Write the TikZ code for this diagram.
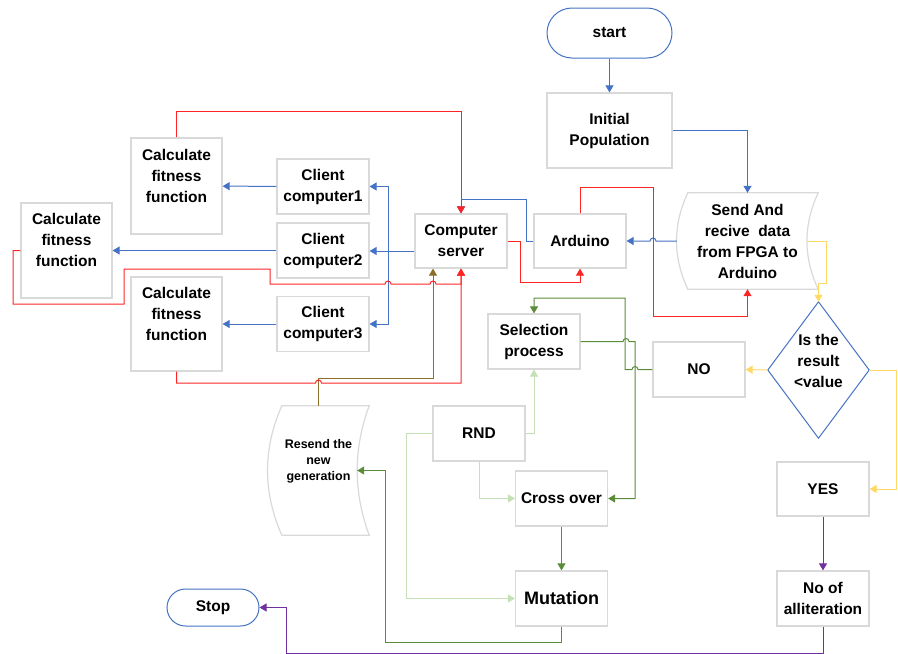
\documentclass[tikz,border=0pt]{standalone}
\usepackage{fontspec}
\setmainfont{Liberation Sans}
\usetikzlibrary{arrows.meta}
\definecolor{boxgray}{HTML}{D9D9D9}
\definecolor{lnblue}{HTML}{4472C4}
\definecolor{lnred}{HTML}{FF2424}
\definecolor{lnbrown}{HTML}{8B6E2A}
\definecolor{lngreen}{HTML}{5B8C3A}
\definecolor{lnlight}{HTML}{C5E0B4}
\definecolor{lnyellow}{HTML}{FFD966}
\definecolor{lnpurple}{HTML}{7030A0}
\tikzset{
  box/.style={draw=boxgray,line width=1.2pt,fill=white,minimum width=92pt,minimum height=55pt,align=center,inner sep=2pt},
  plain/.style={minimum width=92pt,minimum height=55pt,align=center,inner sep=0pt},
  term/.style={draw=lnblue,line width=1pt,fill=white,minimum width=125pt,minimum height=50pt,rounded corners=25pt},
  flow/.style={line width=1pt,-{Triangle[length=7pt,width=8pt]}},
  hop/.style={start angle=180,end angle=0,radius=3pt},
  hopl/.style={start angle=0,end angle=180,radius=3pt},
}
\begin{document}
\begin{tikzpicture}[x=1pt,y=-1pt,font=\fontsize{15.5}{21}\selectfont\bfseries]
\useasboundingbox (0,0) rectangle (898,654);
\node[term] (start) at (609.5,33) {start};
\node[box,minimum width=125pt,minimum height=75pt] (init) at (609.5,130.5) {Initial\\Population};
\node[plain,minimum width=141pt,minimum height=96pt] (send) at (747.5,241) {Send And\\recive\ \ data\\from FPGA to\\Arduino};
\node[box,minimum height=54pt] (ard) at (580,241) {Arduino};
\node[box,minimum height=54pt] (srv) at (461,241) {Computer\\server};
\node[box] (cl1) at (323,186.5) {Client\\computer1};
\node[box] (cl2) at (323,250.5) {Client\\computer2};
\node[box] (cl3) at (323,324) {Client\\computer3};
\node[box,minimum width=91pt,minimum height=96pt] (fit1) at (176.5,186) {Calculate\\fitness\\function\\\mbox{}};
\node[box,minimum width=91pt,minimum height=95pt] (fit2) at (66.5,250.5) {Calculate\\fitness\\function\\\mbox{}};
\node[box,minimum width=91pt,minimum height=94pt] (fit3) at (176.5,324) {Calculate\\fitness\\function\\\mbox{}};
\node[plain,minimum width=101pt,minimum height=129pt,font=\fontsize{12.5}{16}\selectfont\bfseries] (resend) at (318.5,470.5) {Resend the\\new\\generation\\[5pt]\mbox{}};
\node[box] (sel) at (534,341.5) {Selection\\process};
\node[box] (rnd) at (479,433.5) {RND};
\node[box] (cross) at (561.5,498.5) {Cross over};
\node[box,font=\fontsize{18}{22}\selectfont\bfseries] (mut) at (561.5,598.5) {Mutation};
\node[box] (no) at (699,369.5) {NO};
\node[plain,minimum width=101pt,minimum height=136pt] (dec) at (818.5,370) {Is the\\result\\\textless value\\[-3pt]\mbox{}};
\node[box,minimum height=54pt] (yes) at (823,489) {YES};
\node[box] (alit) at (823,598.5) {No of\\alliteration};
\node[term,minimum width=92pt,minimum height=37pt,rounded corners=18.5pt] (stop) at (213,607.5) {Stop};
\draw[draw=boxgray,line width=1.2pt] ([xshift=11pt]send.north west) -- (send.north east) .. controls +(-15,32) and +(-15,-32) .. (send.south east) -- ([xshift=11pt]send.south west) .. controls +(-15,-32) and +(-15,32) .. ([xshift=11pt]send.north west) -- cycle;
\draw[draw=boxgray,line width=1.2pt] ([xshift=14pt]resend.north west) -- (resend.north east) .. controls +(-16,43) and +(-16,-43) .. (resend.south east) -- ([xshift=14pt]resend.south west) .. controls +(-19,-43) and +(-19,43) .. ([xshift=14pt]resend.north west) -- cycle;
\draw[draw=lnblue,line width=1pt] (dec.north) -- (dec.east) -- (dec.south) -- (dec.west) -- cycle;
\coordinate (bus) at (388,251);
\draw[flow,lnblue] (start) -- (init);
\draw[flow,lnblue] (init.east) -| (send.north);
\draw[flow,lnblue] (send.west) -- (656,241) arc[hopl] -- (ard.east);
\draw[flow,lnblue] (ard.west) -- (526,241) |- ([yshift=14pt]srv.north) -- (srv.north);
\draw[line width=1pt,lnblue] (srv.west |- bus) -- (bus);
\draw[flow,lnblue] (bus) |- (cl1.east);
\draw[flow,lnblue] (bus) -- (cl2.east |- bus);
\draw[flow,lnblue] (bus) |- (cl3.east);
\draw[flow,lnblue] (cl1) -- (fit1);
\draw[flow,lnblue] (cl2) -- (fit2);
\draw[flow,lnblue] (cl3) -- (fit3);
\draw[flow,lnbrown] (resend.north) -- (318.5,378) -| ([xshift=-28pt]srv.south);
\draw[flow,lnred] (fit1.north) -- (176.5,111) -| (srv.north);
\draw[flow,lnred] (fit2.west) -- (13,250.5) -- (13,304) -- (124,304) -- (124,269) -- (270,269) -- (270,284) -- (385,284) arc[hop] -- (430,284) arc[hop] -- (461,284) -- (srv.south);
\draw[flow,lnred] (fit3.south) -- (176.5,383) -- (315.5,383) arc[hop] -- (461,383) -- (srv.south);
\draw[flow,lnred] (srv.east) -- (520,241) -- (520,282) -| (ard.south);
\draw[flow,lnred] (ard.north) -- (580,187) -| (653,316) -| (send.south);
\draw[flow,lnyellow] ([xshift=-11pt]send.east) -- (826,241) -- (826,283) -- (818.5,283) -- (dec.north);
\draw[flow,lnyellow] (dec.west) -- (no.east);
\draw[flow,lnyellow] (dec.east) -- (896,370) |- (yes.east);
\draw[flow,lngreen] (no.west) -- (638,369.5) arc[hopl] -- (625,369.5) -- (625,298) -| (sel.north);
\draw[flow,lngreen] (sel.east) -- (623,341.5) arc[hop] -- (635,341.5) |- (cross.east);
\draw[flow,lngreen] (cross) -- (mut);
\draw[flow,lngreen] (mut.south) -- (561.5,642) -| (385,470.5) -- ([xshift=-12pt]resend.east);
\draw[flow,lnlight] (rnd.east) -| (sel.south);
\draw[flow,lnlight] (rnd.south) |- (cross.west);
\draw[flow,lnlight] (rnd.west) -- (406,433.5) |- (mut.west);
\draw[flow,lnpurple] (yes) -- (alit);
\draw[flow,lnpurple] (alit.south) -- (823,653) -| (286,607.5) -- (stop.east);
\end{tikzpicture}
\end{document}
